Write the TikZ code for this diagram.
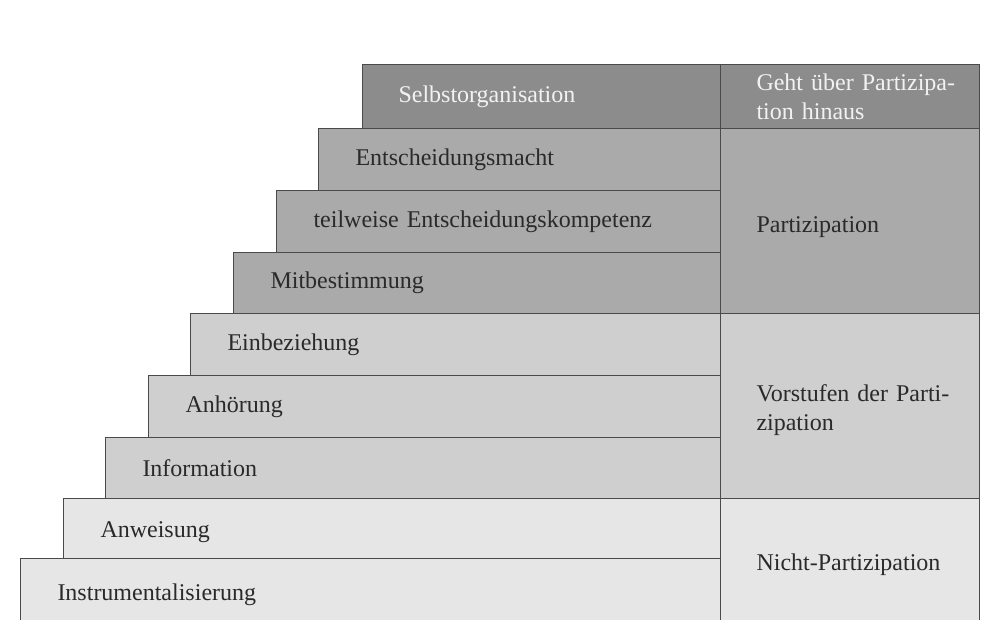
\documentclass[tikz,border=0pt]{standalone}
\usepackage{fontspec}
\setmainfont{Liberation Serif}
\definecolor{cdark}{HTML}{8C8C8C}
\definecolor{cmid}{HTML}{AAAAAA}
\definecolor{clight}{HTML}{CFCFCF}
\definecolor{cpale}{HTML}{E6E6E6}
\definecolor{cline}{HTML}{4A4A4A}
\definecolor{ctext}{HTML}{2A2A2A}
\definecolor{cwhite}{HTML}{F2F2F2}
\tikzset{
  stair/.style={draw=cline, line width=1pt, anchor=north west, inner xsep=0pt, inner ysep=0pt,
    align=left, font=\fontsize{24}{26}\selectfont, text=ctext},
  side/.style={draw=cline, line width=1pt, anchor=north west, inner xsep=0pt, inner ysep=0pt,
    align=left, text width=259pt, font=\fontsize{24}{29}\selectfont, text=ctext},
}
\newcommand{\stairrow}[6]{%
  \pgfmathsetmacro{\rw}{720-#2}%
  \pgfmathsetmacro{\rh}{#4-#3}%
  \node[stair, fill=#5, text width=\rw pt, minimum height=\rh pt] (#1) at (#2,#3) {\hspace*{37pt}#6};%
}
\begin{document}
\begin{tikzpicture}[x=1pt,y=-1pt]
\useasboundingbox[fill=white] (0,0) rectangle (985,619);
\begin{scope}
\clip (0,0) rectangle (985,619);
\stairrow{r9}{20}{558}{630}{cpale}{Instrumentalisierung}
\stairrow{r8}{63}{498}{558}{cpale}{\rule{0pt}{24pt}Anweisung}
\stairrow{r7}{105}{437}{498}{clight}{Information}
\stairrow{r6}{148}{375}{437}{clight}{Anhörung}
\stairrow{r5}{190}{313}{375}{clight}{Einbeziehung}
\stairrow{r4}{233}{252}{313}{cmid}{Mitbestimmung}
\stairrow{r3}{276}{190}{252}{cmid}{teilweise Entscheidungskompetenz}
\stairrow{r2}{318}{128}{190}{cmid}{Entscheidungsmacht}
\node[stair, fill=cdark, text=cwhite, text width=358pt, minimum height=64pt] (r1) at (362,64) {\hspace*{36pt}Selbstorganisation};
\node[side, fill=cdark, text=cwhite, minimum height=64pt] (s1) at (720,64) {\hspace*{36pt}Geht über Partizipa-\\\hspace*{36pt}tion hinaus};
\node[side, fill=cmid, minimum height=185pt] (s2) at (720,128) {\hspace*{36pt}\rule{0pt}{28pt}Partizipation};
\node[side, fill=clight, minimum height=185pt] (s3) at (720,313) {\hspace*{36pt}\rule{0pt}{26pt}Vorstufen der Parti-\\\hspace*{36pt}zipation};
\node[side, fill=cpale, minimum height=132pt] (s4) at (720,498) {\hspace*{36pt}Nicht-Partizipation};
\end{scope}
\end{tikzpicture}
\end{document}
